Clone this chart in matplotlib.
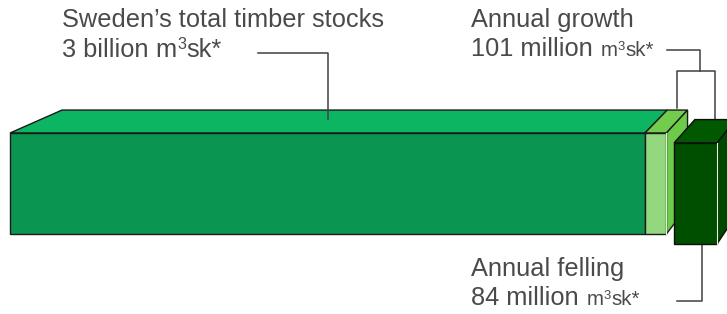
import numpy as np
import matplotlib
matplotlib.use("Agg")
import matplotlib.pyplot as plt
from matplotlib.patches import Polygon

# Values in million m3sk
stocks = 3000
growth = 101
felling = 84

stock_title = "Sweden\u2019s total timber stocks"
stock_amount = "3 billion"
growth_title = "Annual growth"
growth_amount = "%d million" % growth
felling_title = "Annual felling"
felling_amount = "%d million" % felling

plt.rcParams['font.family'] = ['Liberation Sans', 'DejaVu Sans']
TXT = '#4a4a4a'
LINE = '#404040'

fig = plt.figure(figsize=(7.27, 3.14), dpi=100)
ax = fig.add_axes([0, 0, 1, 1])
ax.set_xlim(0, 727)
ax.set_ylim(314, 0)
ax.axis('off')

x0 = 10
px = 635 / stocks       # pixels per million m3
y_top, y_bot = 133, 234


def back(x, y):
    # perspective push of a front point to the back face
    return 0.953 * x + 52.5, 0.953 * y - 16.7


def box(xl, xr, yt, yb, front, top, side=None, ec='#1a1a1a', z=2):
    tl, tr = back(xl, yt), back(xr, yt)
    ax.add_patch(Polygon([(xl, yt), (xr, yt), tr, tl], closed=True,
                         fc=top, ec=ec, lw=1, zorder=z))
    if side is not None:
        br = back(xr, yb)
        ax.add_patch(Polygon([(xr, yt), tr, br, (xr, yb)], closed=True,
                             fc=side, ec=ec, lw=1, zorder=z))
    ax.add_patch(Polygon([(xl, yt), (xr, yt), (xr, yb), (xl, yb)], closed=True,
                         fc=front, ec=ec, lw=1, zorder=z))
    if side is not None:
        ax.plot([xr, xr], [yt, yb], color='#e8f5e0', lw=0.8, zorder=z + 0.5)


# total stocks block
x_stock = x0 + stocks * px
box(x0, x_stock, y_top, y_bot, '#0a9650', '#0cb562')

# growth block next to it
x_growth = x_stock + growth * px
box(x_stock, x_growth, y_top, y_bot, '#93d77f', '#72cc4e', '#6ccb48')

# leaders behind the felling block
ax.plot([258, 328, 328], [53, 53, 119], color=LINE, lw=1.1, zorder=4)
ax.plot([667, 700, 700], [50, 50, 71], color=LINE, lw=1.1, zorder=1)
ax.plot([677, 677, 715, 715], [108, 71, 71, 119], color=LINE, lw=1.1, zorder=1)

# felling block in front (separate cube)
box(674, 717, 143, 244, '#004f00', '#005800', '#004800', ec='#0d0d0d', z=5)

ax.plot([677, 702, 702], [301, 301, 244], color=LINE, lw=1.1, zorder=4)

# labels
renderer = fig.canvas.get_renderer()
big, small = 18.3, 14.8


def em(size):
    return size * 100 / 72


def runs(x, y, parts):
    # parts: (text, fontsize, raise_px, gap_after_px)
    for txt, size, up, gap in parts:
        t = ax.text(x, y - up, txt, fontsize=size, color=TXT, va='baseline')
        bb = t.get_window_extent(renderer=renderer)
        x = ax.transData.inverted().transform((bb.x1, bb.y0))[0] + gap


def unit(size):
    return [("m", size, 0, 0.5), ("3", size * 0.64, em(size) * 0.3, 0.5),
            ("sk*", size, 0, 0)]


ax.text(62, 27, stock_title, fontsize=big, color=TXT, va='baseline')
runs(62, 57, [(stock_amount, big, 0, 0.278 * em(big))] + unit(big))

ax.text(471, 27, growth_title, fontsize=big, color=TXT, va='baseline')
runs(471, 56, [(growth_amount, big, 0, 0.3 * em(big))] + unit(small))

ax.text(471, 276, felling_title, fontsize=big, color=TXT, va='baseline')
runs(471, 305, [(felling_amount, big, 0, 0.3 * em(big))] + unit(small))

fig.savefig('out.png', dpi=100)
